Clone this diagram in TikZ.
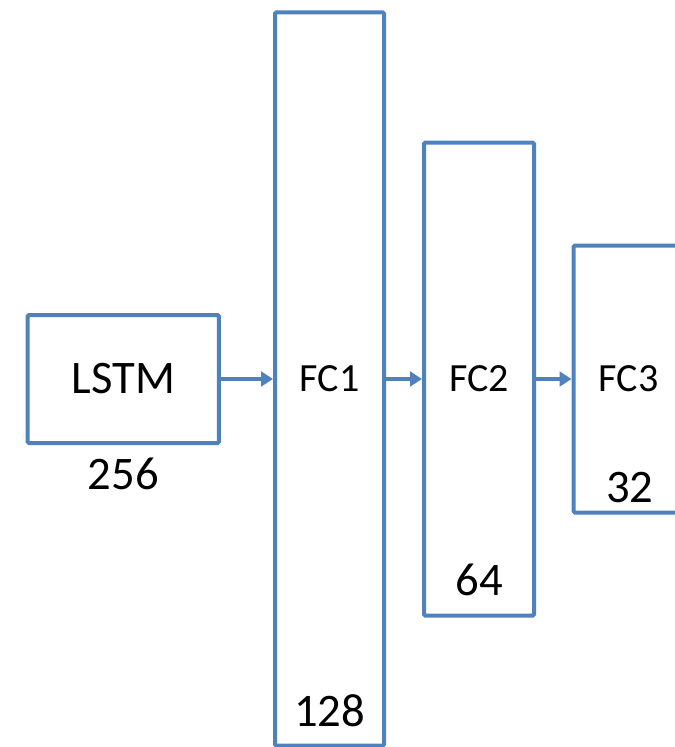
\documentclass[tikz,border=0pt]{standalone}
\usepackage{fontspec}
\setmainfont{Carlito}
\usepackage{tikz}
\usetikzlibrary{arrows.meta,positioning}
\definecolor{layerblue}{RGB}{79,129,189}

\begin{document}
\begin{tikzpicture}[x=0.75pt, y=-0.75pt,
	layer/.style={draw=layerblue, line width=3pt, rounded corners=1pt, inner sep=0pt, font=\fontsize{30}{36}\selectfont},
	unitnum/.style={inner sep=0pt, font=\fontsize{35}{42}\selectfont},
	flow/.style={draw=layerblue, line width=3.6pt, -{Triangle[length=9pt, width=11pt]}}]
	\useasboundingbox (0,0) rectangle (675,747);
	% input block and dense layers
	\node[layer, minimum width=143.5pt, minimum height=96pt, font=\fontsize{35}{42}\selectfont] (lstm) at (123.25,379) {LSTM};
	\node[layer, minimum width=81.75pt, minimum height=550pt] (fc1) at (329.5,379) {FC1};
	\node[layer, minimum width=82.5pt, minimum height=354.75pt] (fc2) at (479,379) {FC2};
	\node[layer, minimum width=82.5pt, minimum height=200.25pt] (fc3) at (628.5,379) {FC3};
	% layer sizes
	\node[unitnum] (n256) at ([yshift=-22pt]lstm.south) {256};
	\node[unitnum] (n128) at ([yshift=28pt]fc1.south) {128};
	\node[unitnum] (n64) at ([yshift=28.5pt]fc2.south) {64};
	\node[unitnum] (n32) at ([xshift=1pt, yshift=20pt]fc3.south) {32};
	% connections
	\draw[flow] (lstm) -- (fc1);
	\draw[flow] (fc1) -- (fc2);
	\draw[flow] (fc2) -- (fc3);
\end{tikzpicture}
\end{document}
